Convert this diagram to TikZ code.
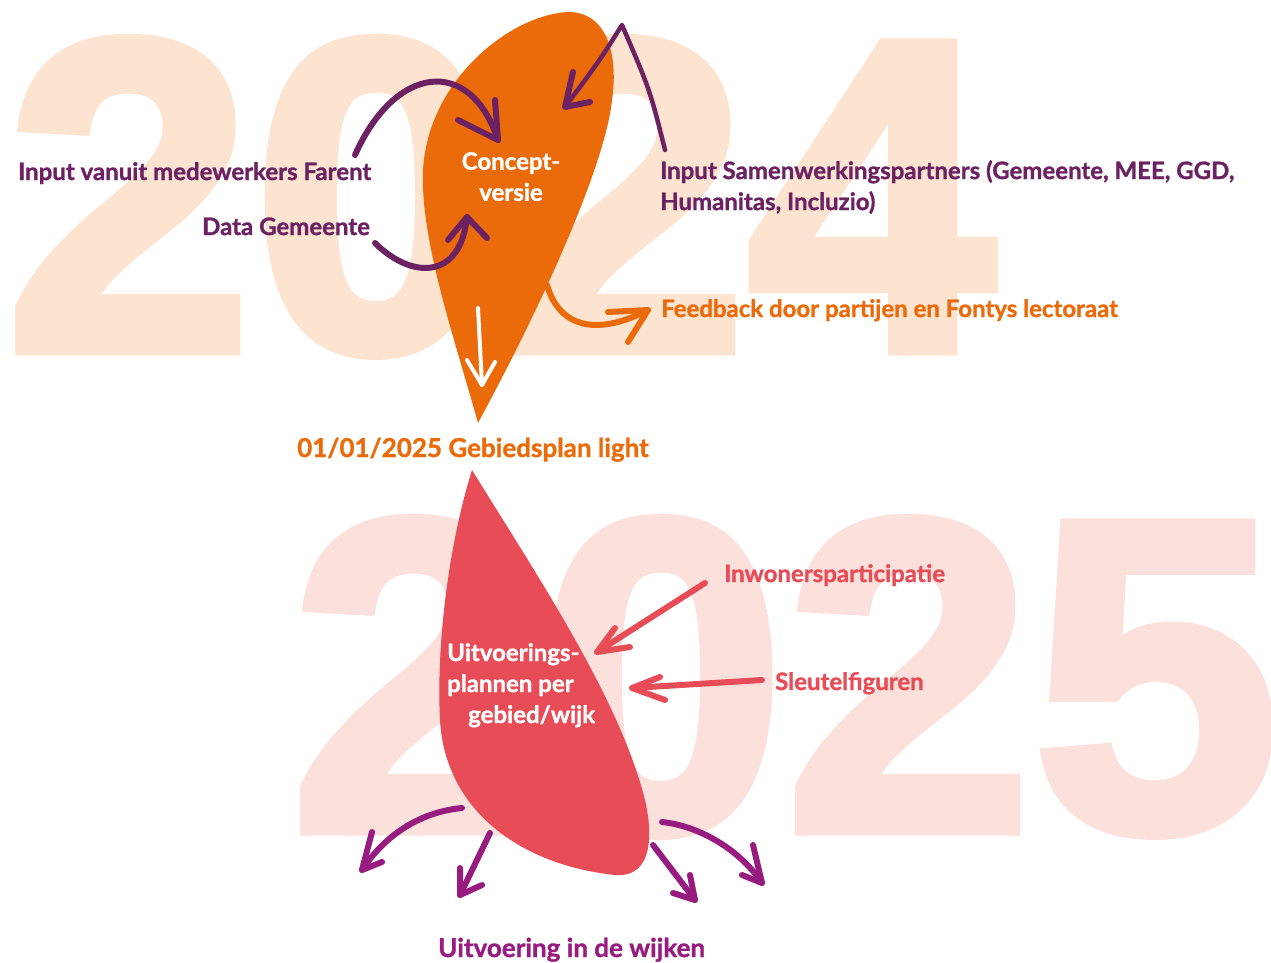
\documentclass[tikz,border=0pt]{standalone}
\usepackage{fontspec}
\setmainfont{Lato}[BoldFeatures={FakeBold=1.2}]
\newfontfamily\yearfont{Liberation Sans}[BoldFeatures={FakeBold=2.5}]
\definecolor{farentorange}{HTML}{EB6A0A}
\definecolor{farentred}{HTML}{E84C57}
\definecolor{farentpurple}{HTML}{6C2262}
\definecolor{farentmagenta}{HTML}{981C80}
\definecolor{bgorange}{HTML}{FDE4D1}
\definecolor{bgpink}{HTML}{FCE0DC}
\tikzset{
  textlabel/.style={font=\fontsize{24}{31}\selectfont\bfseries, inner sep=0, anchor=base west},
  biglabel/.style={textlabel, font=\fontsize{26}{31}\selectfont\bfseries},
  year/.style={font=\yearfont\bfseries\fontsize{445}{445}\selectfont, inner sep=0, anchor=base west},
  pen/.style={line width=6, line cap=round, line join=round},
}
\begin{document}
\begin{tikzpicture}[x=1pt,y=-1pt]
\useasboundingbox (0,0) rectangle (1271,962);
% jaartallen op de achtergrond
\node[year, text=bgorange] (yr2024) at (5,350) {2024};
\node[year, text=bgpink] (yr2025) at (290,830) {2025};
% de twee druppels
\fill[farentorange] (478,423) .. controls (455,340) and (420,240) .. (423,170)
  .. controls (428,80) and (510,15) .. (568,12)
  .. controls (610,12) and (618,60) .. (612,100)
  .. controls (606,160) and (550,290) .. (478,423) -- cycle;
\fill[farentred] (472,470) .. controls (450,540) and (436,640) .. (440,720)
  .. controls (445,810) and (520,865) .. (615,875)
  .. controls (655,878) and (652,830) .. (645,800)
  .. controls (620,700) and (540,580) .. (472,470) -- cycle;
% teksten
\node[textlabel, text=farentpurple] (farent) at (18,180) {Input vanuit medewerkers Farent};
\node[textlabel, text=farentpurple] (data) at (202,235) {Data Gemeente};
\node[textlabel, text=white, anchor=north, align=center] (concept) at (511,152) {Concept-\\versie};
\node[textlabel, text=farentpurple, anchor=north west, align=left] (partners) at (660,160)
  {Input Samenwerkingspartners (Gemeente, MEE, GGD,\\Humanitas, Incluzio)};
\node[textlabel, text=farentorange] (feedback) at (661,317) {Feedback door partijen en Fontys lectoraat};
\node[biglabel, text=farentorange] (light) at (297,457) {01/01/2025 Gebiedsplan light};
\node[textlabel, text=farentred] (inwoners) at (724,582) {Inwonersparticipatie};
\node[textlabel, text=farentred] (sleutel) at (775,690) {Sleutelfiguren};
\node[textlabel, text=white, anchor=north west, align=left] (plannen) at (447,643)
  {Uitvoerings-\\plannen per\\\hspace*{21pt}gebied/wijk};
\node[biglabel, text=farentmagenta] (wijken) at (438,957) {Uitvoering in de wijken};
% pijlen 2024
\coordinate (farentstart) at (355,155);
\coordinate (farenttip) at (498,140);
\coordinate (datastart) at (375,243);
\coordinate (datatip) at (467,217);
\coordinate (partnerstart) at (665,150);
\coordinate (partnerpeak) at (622,25);
\coordinate (partnertip) at (565,107);
\coordinate (feedbackstart) at (547,285);
\coordinate (feedbacktip) at (648,310);
\coordinate (downstart) at (478,308);
\coordinate (downtip) at (482,385);
\draw[pen, farentpurple] (farentstart) .. controls (395,65) and (470,55) .. (farenttip);
\draw[pen, farentpurple] (458,120) -- (farenttip) -- (495,100);
\draw[pen, farentpurple] (datastart) .. controls (410,278) and (460,282) .. (datatip);
\draw[pen, farentpurple] (448,240) -- (datatip) -- (487,238);
\draw[pen, farentpurple, line width=4.5] (partnerstart) .. controls (650,90) .. (partnerpeak)
  .. controls (600,60) .. (partnertip);
\draw[pen, farentpurple] (573,72) -- (partnertip) -- (590,102);
\draw[pen, farentorange] (feedbackstart) .. controls (560,330) and (600,335) .. (feedbacktip);
\draw[pen, farentorange] (608,312) -- (feedbacktip) -- (628,342);
\draw[pen, white, line width=4] (downstart) -- (downtip);
\draw[pen, white, line width=4] (467,360) -- (downtip) -- (495,362);
% pijlen 2025
\coordinate (inwonerstart) at (705,583);
\coordinate (inwonertip) at (597,652);
\coordinate (sleutelstart) at (762,680);
\coordinate (sleuteltip) at (632,688);
\draw[pen, farentred] (inwonerstart) -- (inwonertip);
\draw[pen, farentred] (615,628) -- (inwonertip) -- (630,647);
\draw[pen, farentred] (sleutelstart) -- (sleuteltip);
\draw[pen, farentred] (660,677) -- (sleuteltip) -- (665,700);
\coordinate (wijkAstart) at (462,808);
\coordinate (wijkAtip) at (362,870);
\coordinate (wijkBstart) at (490,833);
\coordinate (wijkBtip) at (460,895);
\coordinate (wijkCstart) at (653,845);
\coordinate (wijkCtip) at (695,900);
\coordinate (wijkDstart) at (662,822);
\coordinate (wijkDtip) at (762,883);
\draw[pen, farentmagenta] (wijkAstart) .. controls (420,812) and (385,835) .. (wijkAtip);
\draw[pen, farentmagenta] (372,832) -- (wijkAtip) -- (382,862);
\draw[pen, farentmagenta] (wijkBstart) -- (wijkBtip);
\draw[pen, farentmagenta] (460,868) -- (wijkBtip) -- (482,885);
\draw[pen, farentmagenta] (wijkCstart) -- (wijkCtip);
\draw[pen, farentmagenta] (690,875) -- (wijkCtip) -- (673,893);
\draw[pen, farentmagenta] (wijkDstart) .. controls (700,826) and (740,850) .. (wijkDtip);
\draw[pen, farentmagenta] (753,845) -- (wijkDtip) -- (742,875);
\end{tikzpicture}
\end{document}
